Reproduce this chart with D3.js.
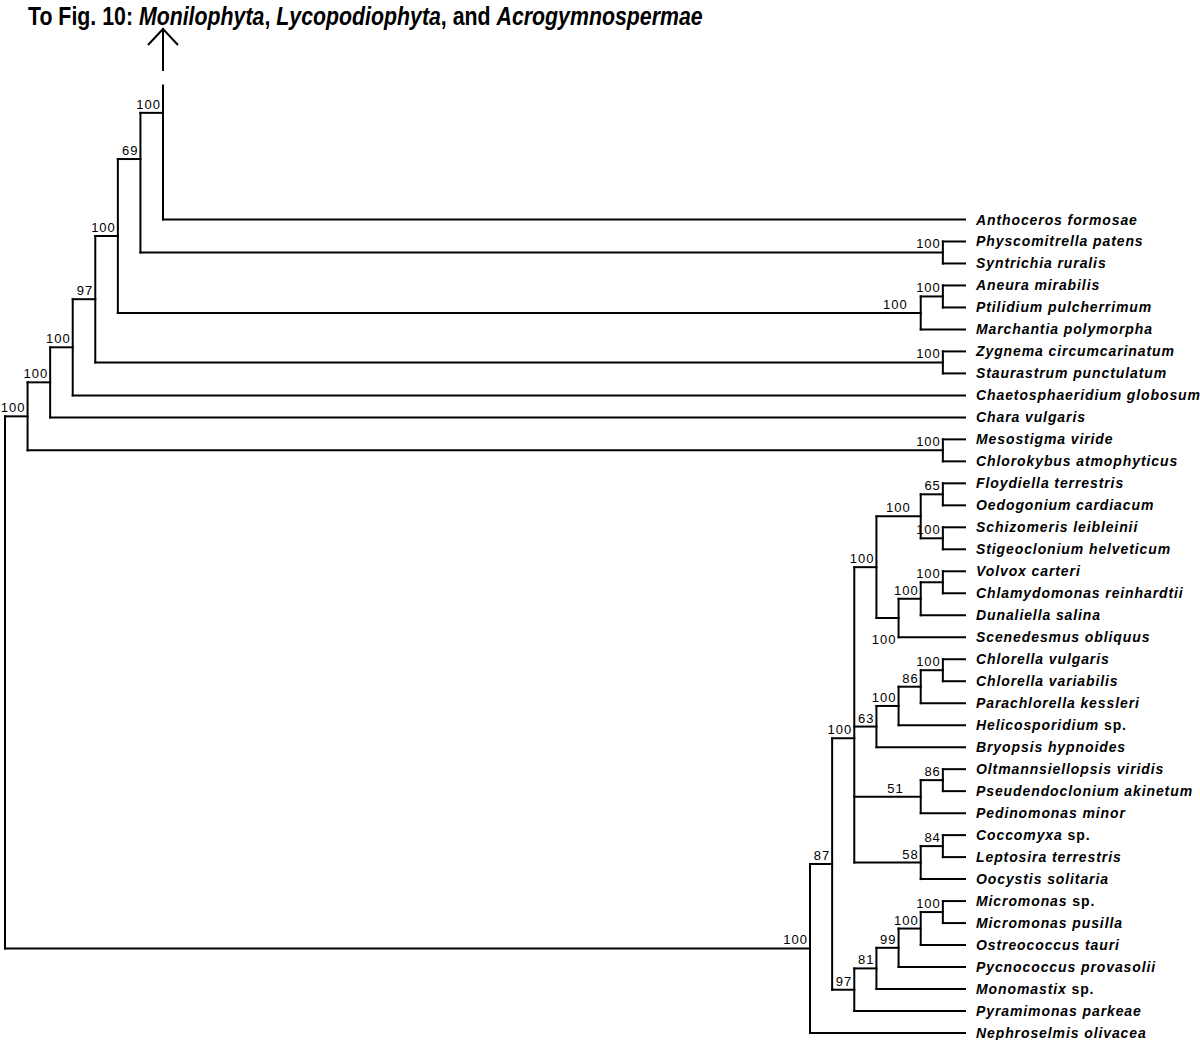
<!DOCTYPE html>
<html><head><meta charset="utf-8">
<script src="https://cdn.jsdelivr.net/npm/d3@7"></script>
<style>body{margin:0;background:#fff}</style>
</head><body>
<svg id="chart" width="1200" height="1040"></svg>
<script>
// ---- DATA ----
// Leaf taxa in top-to-bottom order, with the clade each attaches to
const taxa = [
  ["Anthoceros formosae", "s7"],
  ["Physcomitrella patens", "physPair"],
  ["Syntrichia ruralis", "physPair"],
  ["Aneura mirabilis", "aneuraPair"],
  ["Ptilidium pulcherrimum", "aneuraPair"],
  ["Marchantia polymorpha", "marchClade"],
  ["Zygnema circumcarinatum", "zygPair"],
  ["Staurastrum punctulatum", "zygPair"],
  ["Chaetosphaeridium globosum", "s3"],
  ["Chara vulgaris", "s2"],
  ["Mesostigma viride", "mesoPair"],
  ["Chlorokybus atmophyticus", "mesoPair"],
  ["Floydiella terrestris", "floydPair"],
  ["Oedogonium cardiacum", "floydPair"],
  ["Schizomeris leibleinii", "schizoPair"],
  ["Stigeoclonium helveticum", "schizoPair"],
  ["Volvox carteri", "volPair"],
  ["Chlamydomonas reinhardtii", "volPair"],
  ["Dunaliella salina", "volDun"],
  ["Scenedesmus obliquus", "chlam"],
  ["Chlorella vulgaris", "chlorellaPair"],
  ["Chlorella variabilis", "chlorellaPair"],
  ["Parachlorella kessleri", "treb3"],
  ["Helicosporidium sp.", "treb2"],
  ["Bryopsis hypnoides", "treb"],
  ["Oltmannsiellopsis viridis", "oltPair"],
  ["Pseudendoclonium akinetum", "oltPair"],
  ["Pedinomonas minor", "ulv51"],
  ["Coccomyxa sp.", "coccPair"],
  ["Leptosira terrestris", "coccPair"],
  ["Oocystis solitaria", "c58"],
  ["Micromonas sp.", "micPair"],
  ["Micromonas pusilla", "micPair"],
  ["Ostreococcus tauri", "p4"],
  ["Pycnococcus provasolii", "p3"],
  ["Monomastix sp.", "p2"],
  ["Pyramimonas parkeae", "p1"],
  ["Nephroselmis olivacea", "c1"]
];

// Internal clades: [id, parent, bootstrap support]
const clades = [
  ["root", "", null],
  ["s1", "root", 100], ["s2", "s1", 100], ["s3", "s2", 100], ["s4", "s3", 97],
  ["s5", "s4", 100], ["s6", "s5", 69], ["s7", "s6", 100],
  ["physPair", "s6", 100], ["marchClade", "s5", 100], ["aneuraPair", "marchClade", 100],
  ["zygPair", "s4", 100], ["mesoPair", "s1", 100],
  ["c1", "root", 100], ["c2", "c1", 87], ["c3", "c2", 100],
  ["chl", "c3", 100], ["oed", "chl", 100], ["floydPair", "oed", 65], ["schizoPair", "oed", 100],
  ["chlam", "chl", 100], ["volDun", "chlam", 100], ["volPair", "volDun", 100],
  ["treb", "c3", 63], ["treb2", "treb", 100], ["treb3", "treb2", 86], ["chlorellaPair", "treb3", 100],
  ["ulv51", "c3", 51], ["oltPair", "ulv51", 86],
  ["c58", "c3", 58], ["coccPair", "c58", 84],
  ["p1", "c2", 97], ["p2", "p1", 81], ["p3", "p2", 99], ["p4", "p3", 100], ["micPair", "p4", 100]
];

// Truncated subtree continued in another figure
const truncatedParent = "s7";
const titleParts = [
  ["To Fig. 10: ", false], ["Monilophyta", true], [", ", false],
  ["Lycopodiophyta", true], [", and ", false], ["Acrogymnospermae", true]
];

// ---- LAYOUT ----
const svg = d3.select("#chart");
const nLeaves = taxa.length;
const yRow = d3.scaleLinear().domain([0, nLeaves - 1]).range([219.5, 1033]);
const xDepth = d3.scaleLinear().domain([0, 7]).range([5, 163]);     // backbone leading to truncated subtree
const xHeight = d3.scaleLinear().domain([0, 7]).range([965, 810]);  // leaf-aligned clades

// Row positions of nodes set by the hidden (truncated) subtree
const hiddenRows = { stubTop: -6.1, s7: -4.85, s6: -2.75 };

const rows = clades.map(c => ({ id: c[0], parent: c[1] || null, support: c[2], kind: "clade" }))
  .concat(taxa.map((t, i) => ({ id: t[0], parent: t[1], kind: "leaf", row: i })))
  .concat([{ id: "__stub", parent: truncatedParent, kind: "stub", row: hiddenRows.stubTop }]);

const root = d3.stratify().id(d => d.id).parentId(d => d.parent)(rows);
const stub = root.find(n => n.data.kind === "stub");
const backbone = new Set(stub.ancestors());

root.each(n => {
  if (n === stub) return;
  if (backbone.has(n)) n.x = xDepth(n.depth);
  else n.x = xHeight(n.height);
});
stub.x = xDepth(stub.parent.depth);

root.eachAfter(n => {
  if (n.data.kind !== "clade") n.y = yRow(n.data.row);
  else if (hiddenRows[n.id] !== undefined) n.y = yRow(hiddenRows[n.id]);
  else n.y = d3.mean(n.children, c => c.y);
});

// ---- DRAW ----
const g = svg.append("g").attr("fill", "none").attr("stroke", "#000")
  .attr("stroke-width", 2).attr("stroke-linecap", "square");

// vertical connectors
g.selectAll("line.v").data(root.descendants().filter(n => n.children)).join("line")
  .attr("class", "v")
  .attr("x1", d => d.x).attr("x2", d => d.x)
  .attr("y1", d => d3.min(d.children, c => c.y))
  .attr("y2", d => d3.max(d.children, c => c.y));

// horizontal branches
g.selectAll("line.h").data(root.descendants().filter(n => n.parent && n !== stub)).join("line")
  .attr("class", "h")
  .attr("x1", d => d.parent.x).attr("x2", d => d.x)
  .attr("y1", d => d.y).attr("y2", d => d.y);

// arrow to the continuation figure
const ax = stub.x, aTop = 29, aBot = 70;
g.append("line").attr("x1", ax).attr("x2", ax).attr("y1", aTop).attr("y2", aBot);
g.append("path").attr("stroke-linecap", "butt").attr("stroke-linejoin", "miter")
  .attr("d", `M${ax - 15},${aTop + 16}L${ax},${aTop}L${ax + 15},${aTop + 16}`);

// support labels
const nudge = { marchClade: { dx: -11, dy: 0 }, oed: { dx: -8, dy: 0 }, ulv51: { dx: -15, dy: 0 }, chlam: { dx: 0, dy: 30 } };
svg.append("g").selectAll("text").data(root.descendants().filter(n => n.data.support != null)).join("text")
  .attr("x", d => d.x - 2 + (nudge[d.id] ? nudge[d.id].dx : 0))
  .attr("y", d => d.y - 4 + (nudge[d.id] ? nudge[d.id].dy : 0))
  .attr("text-anchor", "end")
  .style("font-family", "'Liberation Sans', Arial, sans-serif")
  .style("font-size", "13px").style("letter-spacing", "1px")
  .text(d => d.data.support);

// leaf labels
const leafG = svg.append("g").selectAll("text").data(root.leaves().filter(n => n !== stub)).join("text")
  .attr("x", 976).attr("y", d => d.y + 5)
  .style("font-family", "'Liberation Sans', Arial, sans-serif")
  .style("font-size", "14px").style("font-weight", "bold").style("letter-spacing", "0.9px");
leafG.each(function (d) {
  const t = d3.select(this);
  const m = d.id.match(/^(.*?)( sp\.)$/);
  if (m) {
    t.append("tspan").style("font-style", "italic").text(m[1]);
    t.append("tspan").text(m[2]);
  } else {
    t.append("tspan").style("font-style", "italic").text(d.id);
  }
});

// title
const title = svg.append("text").attr("x", 28).attr("y", 25)
  .style("font-family", "'Liberation Sans', Arial, sans-serif")
  .style("font-size", "26px").style("font-weight", "bold");
titleParts.forEach(p => title.append("tspan").style("font-style", p[1] ? "italic" : "normal").text(p[0]));
const tw = title.node().getBBox().width;
const k = 675 / tw;
title.attr("transform", `translate(28,0) scale(${k},1) translate(-28,0)`);
</script>
</body></html>
